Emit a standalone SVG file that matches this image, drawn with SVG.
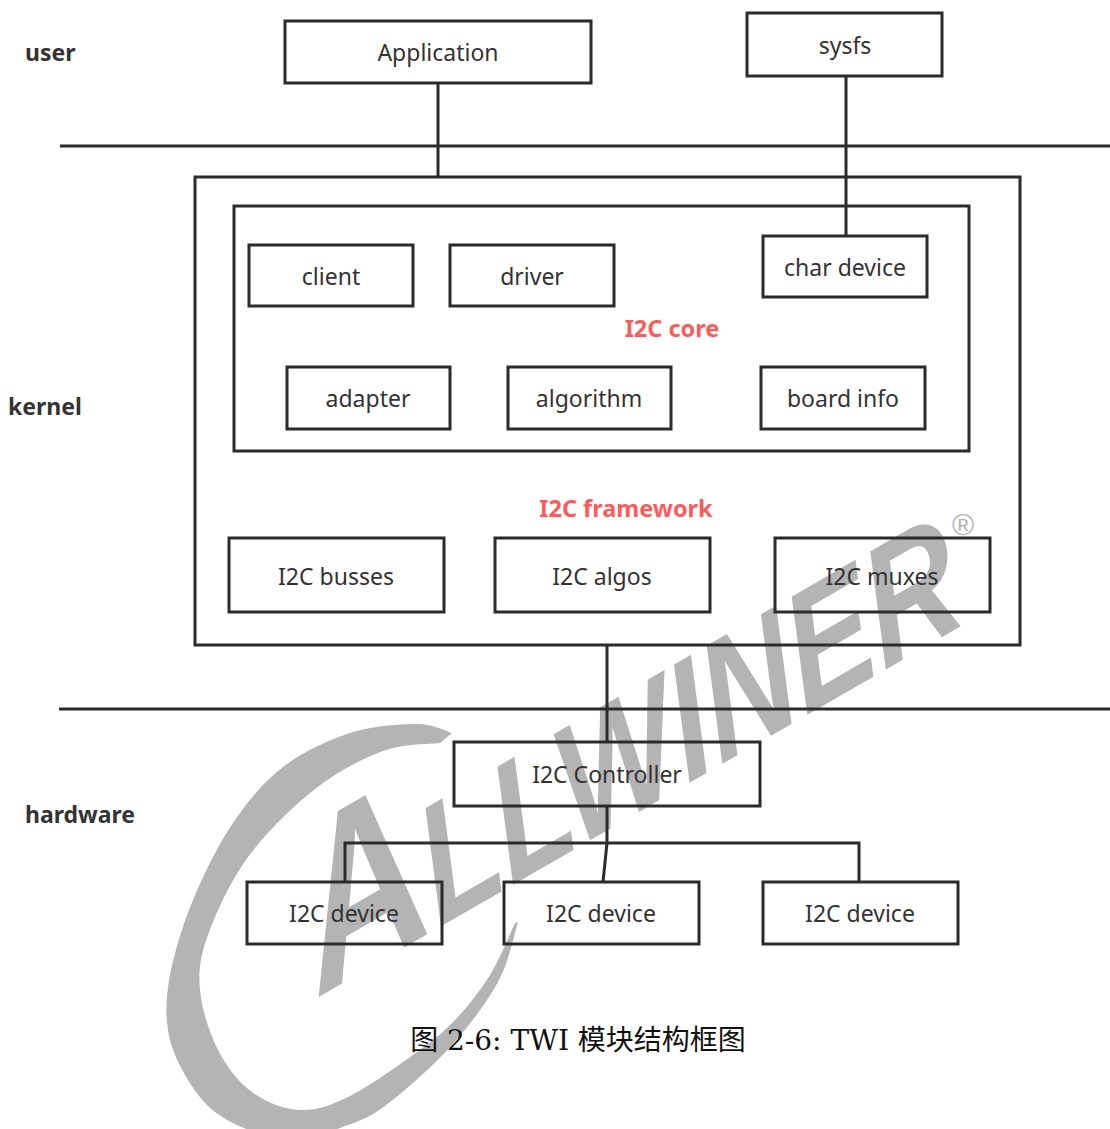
<svg xmlns="http://www.w3.org/2000/svg" width="1110" height="1129" viewBox="0 0 1110 1129">
<style>
.box{fill:none;stroke:#2b2b2b;stroke-width:3}
.ln{fill:none;stroke:#2b2b2b;stroke-width:3}
.t{font-family:"Noto Sans","Open Sans",sans-serif;font-size:23px;fill:#333;text-anchor:middle;dominant-baseline:central}
.lay{font-family:"Noto Sans","Open Sans",sans-serif;font-size:23px;font-weight:bold;fill:#333}
.red{font-family:"Noto Sans","Open Sans",sans-serif;font-size:23.5px;font-weight:bold;fill:#ff5a5a;text-anchor:middle;dominant-baseline:central}
.wm{fill:#b4b4b4}
</style>
<rect width="1110" height="1129" fill="#fff"/>
<g id="watermark">
<path class="wm" d="M452,733 C446.2,731.5 434,724 417,724 C400,724 372.3,725.8 350,733 C327.7,740.2 302.5,752 283,767 C263.5,782 248,800.8 233,823 C218,845.2 203.5,874.7 193,900 C182.5,925.3 174.2,953.3 170,975 C165.8,996.7 165.5,1013.3 168,1030 C170.5,1046.7 177.2,1061.3 185,1075 C192.8,1088.7 202.8,1102.3 215,1112 C227.2,1121.7 243.8,1128.7 258,1133 C272.2,1137.3 286.3,1138.8 300,1138 C313.7,1137.2 325.8,1133.3 340,1128 C354.2,1122.7 366.7,1119.5 385,1106 C403.3,1092.5 431.2,1067.7 450,1047 C468.8,1026.3 486.7,1002.8 498,982 C509.3,961.2 514.7,932 518,922 L515,923 C510.8,931.7 500,958.8 490,975 C480,991.2 467.2,1007.2 455,1020 C442.8,1032.8 434.5,1039.3 417,1052 C399.5,1064.7 369.5,1086.3 350,1096 C330.5,1105.7 316.3,1110.7 300,1110 C283.7,1109.3 265.7,1102 252,1092 C238.3,1082 226.7,1067 218,1050 C209.3,1033 201.7,1009.2 200,990 C198.3,970.8 200,957.2 208,935 C216,912.8 230.2,881.3 248,857 C265.8,832.7 292.5,806.7 315,789 C337.5,771.3 362.2,758.7 383,751 C403.8,743.3 430.5,744.3 440,743 Z"/>
<text class="wm" transform="translate(322,995) rotate(-30) skewX(-14) scale(0.85,1)" font-family="Liberation Sans, sans-serif" font-weight="bold" font-style="italic"><tspan font-size="220">A</tspan><tspan font-size="160">LLWINER</tspan></text>
<text class="wm" x="963" y="535" font-family="Liberation Sans, sans-serif" font-size="30" text-anchor="middle">®</text>
</g>
<g id="layers">
<line class="ln" x1="60" y1="146" x2="1110" y2="146"/>
<line class="ln" x1="59" y1="709" x2="1110" y2="709"/>
<text class="lay" x="25" y="61">user</text>
<text class="lay" x="8" y="415">kernel</text>
<text class="lay" x="25" y="823">hardware</text>
</g>
<g id="connectors">
<line class="ln" x1="438" y1="83" x2="438" y2="177"/>
<line class="ln" x1="846" y1="76" x2="846" y2="236"/>
<line class="ln" x1="607" y1="645" x2="607" y2="742"/>
<polyline class="ln" points="607,806 607,843 603,882"/>
<polyline class="ln" points="345,882 345,843 859,843 859,882"/>
</g>
<g id="application"><rect class="box" x="285" y="21" width="306" height="62"/><text class="t" x="438" y="52" font-size="26">Application</text></g>
<g id="sysfs"><rect class="box" x="747" y="13" width="195" height="63"/><text class="t" x="845" y="45" font-size="22">sysfs</text></g>
<g id="kernel-box"><rect class="box" x="195" y="177" width="825" height="468"/><text class="red" x="626" y="508">I2C framework</text></g>
<g id="i2c-core"><rect class="box" x="234" y="206" width="735" height="245"/><text class="red" x="672" y="328">I2C core</text></g>
<g id="client"><rect class="box" x="249" y="245" width="164" height="61"/><text class="t" x="331" y="276">client</text></g>
<g id="driver"><rect class="box" x="450" y="245" width="164" height="61"/><text class="t" x="532" y="276">driver</text></g>
<g id="char-device"><rect class="box" x="763" y="236" width="164" height="61"/><text class="t" x="845" y="267">char device</text></g>
<g id="adapter"><rect class="box" x="287" y="367" width="163" height="62"/><text class="t" x="368" y="398">adapter</text></g>
<g id="algorithm"><rect class="box" x="508" y="367" width="163" height="62"/><text class="t" x="589" y="398">algorithm</text></g>
<g id="board-info"><rect class="box" x="761" y="367" width="164" height="62"/><text class="t" x="843" y="398">board info</text></g>
<g id="i2c-busses"><rect class="box" x="229" y="538" width="215" height="74"/><text class="t" x="336" y="576">I2C busses</text></g>
<g id="i2c-algos"><rect class="box" x="495" y="538" width="215" height="74"/><text class="t" x="602" y="576">I2C algos</text></g>
<g id="i2c-muxes"><rect class="box" x="775" y="538" width="215" height="74"/><text class="t" x="882" y="576">I2C muxes</text></g>
<g id="i2c-controller"><rect class="box" x="454" y="742" width="306" height="64"/><text class="t" x="607" y="774" font-size="25">I2C Controller</text></g>
<g id="i2c-device-1"><rect class="box" x="247" y="882" width="195" height="62"/><text class="t" x="344" y="913" font-size="24">I2C device</text></g>
<g id="i2c-device-2"><rect class="box" x="504" y="882" width="195" height="62"/><text class="t" x="601" y="913" font-size="24">I2C device</text></g>
<g id="i2c-device-3"><rect class="box" x="763" y="882" width="195" height="62"/><text class="t" x="860" y="913" font-size="24">I2C device</text></g>
<text x="578" y="1040" font-family="DejaVu Serif, 'Noto Sans CJK SC', serif" font-size="28" fill="#111" text-anchor="middle" dominant-baseline="central">图 2-6: TWI 模块结构框图</text>
</svg>
